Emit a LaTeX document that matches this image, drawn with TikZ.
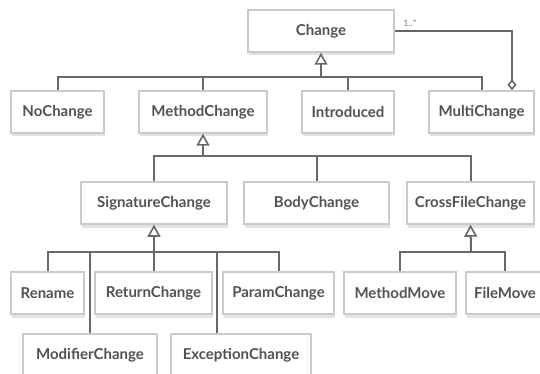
\documentclass[tikz,border=0pt]{standalone}
\usepackage{fontspec}
\setmainfont{Lato}
\usetikzlibrary{arrows.meta,shadows}

\definecolor{boxline}{HTML}{C8CBCD}
\definecolor{boxshade}{HTML}{E1E3E4}
\definecolor{wirecol}{HTML}{656768}
\definecolor{textcol}{HTML}{505253}

\begin{document}
\begin{tikzpicture}[x=1pt, y=-1pt,
	cls/.style={draw=boxline, line width=1.5pt, fill=white, minimum height=42pt, inner sep=0pt,
		text=textcol, font=\fontsize{15}{17}\selectfont\bfseries,
		general shadow={fill=boxshade, shadow yshift=-3.5pt, shadow xshift=0.5pt}},
	wire/.style={draw=wirecol, line width=2pt},
	isa/.style={wire, -{Triangle[open, length=12pt, width=13pt, line width=1.6pt]}},
	has/.style={wire, -{Diamond[open, length=11pt, width=9pt, line width=1.6pt]}},
	mult/.style={text=wirecol!85, font=\fontsize{9}{10}\selectfont}]
		\useasboundingbox (0, 0) rectangle (540, 374);
		\clip (0, 0) rectangle (540, 374);
		
		% top
		\node[cls, minimum width=146pt] (change) at (321, 31) {Change};
		
		% first row
		\node[cls, minimum width=93pt] (nochange) at (57.5, 112) {NoChange};
		\node[cls, minimum width=128pt] (methodchange) at (203, 112) {MethodChange};
		\node[cls, minimum width=92pt] (introduced) at (348, 112) {Introduced};
		\node[cls, minimum width=105pt] (multichange) at (481.5, 112) {MultiChange};
		
		% second row
		\node[cls, minimum width=146pt] (signature) at (154, 203) {SignatureChange};
		\node[cls, minimum width=145pt] (body) at (316.5, 203) {BodyChange};
		\node[cls, minimum width=127pt] (crossfile) at (470.5, 203) {CrossFileChange};
		
		% third row
		\node[cls, minimum width=73pt] (rename) at (47.5, 293) {Rename};
		\node[cls, minimum width=117pt] (return) at (153.5, 293) {ReturnChange};
		\node[cls, minimum width=111pt] (param) at (278.5, 293) {ParamChange};
		\node[cls, minimum width=112pt] (methodmove) at (400, 293) {MethodMove};
		\node[cls, minimum width=78pt] (filemove) at (505, 293) {FileMove};
		
		% bottom row
		\node[cls, minimum width=134pt] (modifier) at (90, 355) {ModifierChange};
		\node[cls, minimum width=140pt] (exception) at (241, 355) {ExceptionChange};
		
		% generalisation of Change
		\coordinate (b1) at (321, 77);
		\draw[isa] (b1) -- (change.south);
		\draw[wire] (nochange.north) |- (b1) -| (multichange.north);
		\draw[wire] (methodchange.north) -- (methodchange.north |- b1);
		\draw[wire] (introduced.north) -- (introduced.north |- b1);
		
		% aggregation
		\draw[has] (change.east) -| ([xshift=30.5pt]multichange.north);
		\node[mult] (many) at (410, 23) {1..*};
		
		% generalisation of MethodChange
		\coordinate (b2) at (203, 156);
		\draw[isa] (b2) -- (methodchange.south);
		\draw[wire] (signature.north) |- (b2) -| (crossfile.north);
		\draw[wire] (body.north) -- (body.north |- b2);
		
		% generalisation of SignatureChange
		\coordinate (b3) at (154, 252);
		\draw[isa] (b3) -- (signature.south);
		\draw[wire] (rename.north) |- (b3) -| (param.north);
		\draw[wire] (return.north) -- (return.north |- b3);
		\draw[wire] (modifier.north) -- (modifier.north |- b3);
		\draw[wire] ([xshift=-24pt]exception.north) -- ([xshift=-24pt]exception.north |- b3);
		
		% generalisation of CrossFileChange
		\coordinate (b4) at (471, 252);
		\draw[isa] (b4) -- (crossfile.south);
		\draw[wire] (methodmove.north) |- (b4) -| (filemove.north);
		
	\end{tikzpicture}
\end{document}
